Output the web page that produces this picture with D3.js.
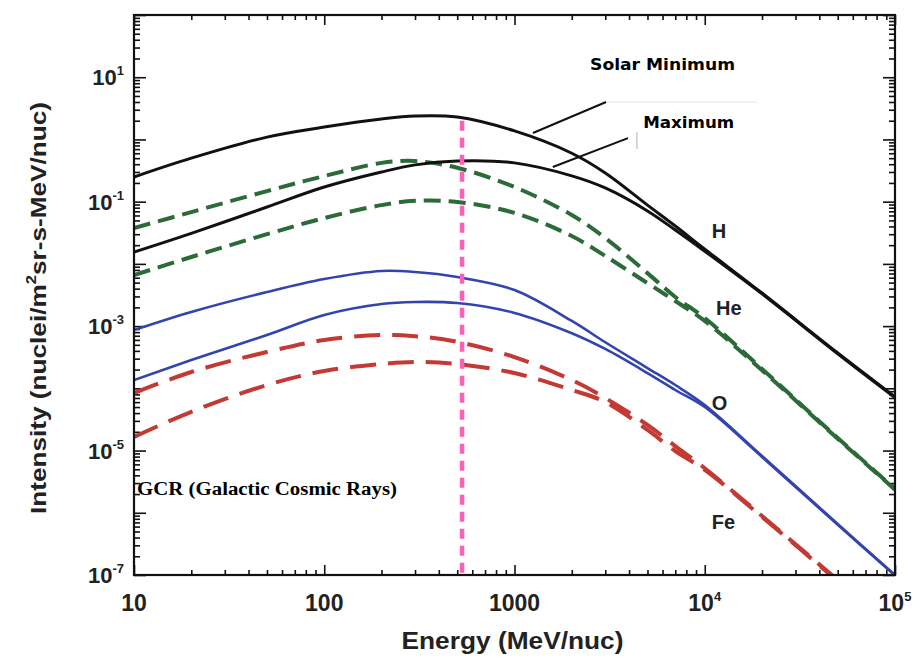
<!DOCTYPE html>
<html>
<head>
<meta charset="utf-8">
<script src="https://cdn.jsdelivr.net/npm/d3@7"></script>
<style>
  body { margin: 0; background: #fff; }
  text { font-family: "Liberation Sans", Arial, sans-serif; }
</style>
</head>
<body>
<div id="chart"></div>
<script>
const energy = [10, 20, 50, 100, 200, 300, 500, 1000, 2000, 3000, 5000, 7000, 1e4, 2e4, 5e4, 1e5];

// intensiteit per element, zonneminimum en -maximum
const hMin  = [0.249, 0.50, 1.09, 1.58, 2.13, 2.38, 2.29, 1.37, 0.60, 0.289, 0.088, 0.0406, 0.0173, 0.0034, 3.7e-4, 7.3e-5];
const hMax  = [0.0155, 0.031, 0.082, 0.172, 0.30, 0.39, 0.45, 0.42, 0.26, 0.166, 0.071, 0.035, 0.0160, 0.0033, 3.6e-4, 7.1e-5];
const heMin = [0.0377, 0.068, 0.148, 0.258, 0.42, 0.45, 0.35, 0.172, 0.061, 0.026, 0.0071, 2.94e-3, 0.00135, 2.05e-4, 1.59e-5, 2.41e-6];
const heMax = [0.0066, 0.0129, 0.030, 0.0546, 0.088, 0.103, 0.099, 0.066, 0.028, 0.0134, 0.0049, 2.53e-3, 0.00121, 1.95e-4, 1.55e-5, 2.35e-6];
const oMin  = [8.65e-4, 1.69e-3, 3.53e-3, 5.71e-3, 7.69e-3, 7.4e-3, 6.15e-3, 3.8e-3, 1.21e-3, 5.5e-4, 2.12e-4, 1.13e-4, 5.4e-5, 8.2e-6, 6.6e-7, 1.0e-7];
const oMax  = [1.36e-4, 2.85e-4, 7.2e-4, 1.51e-3, 2.26e-3, 2.44e-3, 2.35e-3, 1.63e-3, 7.7e-4, 4.3e-4, 1.76e-4, 9.4e-5, 5.0e-5, 7.9e-6, 6.4e-7, 9.8e-8];
const feMin = [8.4e-5, 1.83e-4, 3.84e-4, 5.98e-4, 7.2e-4, 6.9e-4, 5.6e-4, 3.18e-4, 1.36e-4, 7.0e-5, 2.58e-5, 1.18e-5, 5.2e-6, 8.9e-7, 8.3e-8, 1.4e-8];
const feMax = [1.65e-5, 4.2e-5, 1.13e-4, 1.9e-4, 2.46e-4, 2.65e-4, 2.46e-4, 1.76e-4, 9.4e-5, 6.0e-5, 2.14e-5, 9.8e-6, 4.9e-6, 8.6e-7, 8.0e-8, 1.35e-8];

// tick labels
const xTickValues = [10, 100, 1000, 1e4, 1e5];
const xTickLabels = [["10", ""], ["100", ""], ["1000", ""], ["10", "4"], ["10", "5"]];
const yTickValues = [1e1, 1e-1, 1e-3, 1e-5, 1e-7];
const yTickLabels = [["10", "1"], ["10", "-1"], ["10", "-3"], ["10", "-5"], ["10", "-7"]];

// element labels [tekst, energie, intensiteit]
const elementLabels = [["H", 10900, 0.026], ["He", 11460, 1.5e-3], ["O", 10900, 4.5e-5], ["Fe", 10900, 5.5e-7]];

// verticale lijn (roze) op deze energie
const markerEnergy = 530;

const width = 916, height = 658;
const margin = {top: 15, right: 21, bottom: 83, left: 134};
const w = width - margin.left - margin.right;
const h = height - margin.top - margin.bottom;

const x = d3.scaleLog().domain([10, 1e5]).range([0, w]);
const y = d3.scaleLog().domain([1e-7, 1e2]).range([h, 0]);

const svg = d3.select("#chart").append("svg")
    .attr("width", width)
    .attr("height", height);

const g = svg.append("g")
    .attr("transform", "translate(" + margin.left + "," + margin.top + ")");

g.append("clipPath").attr("id", "clip")
  .append("rect").attr("width", w).attr("height", h);

// minor ticks: 2..9 per decade
function minorTicks(lo, hi) {
  const out = [];
  for (let p = lo; p < hi; p++) {
    for (let k = 2; k <= 9; k++) out.push(k * Math.pow(10, p));
  }
  return out;
}
const xMajor = d3.range(1, 6).map(p => Math.pow(10, p));
const yMajor = d3.range(-7, 3).map(p => Math.pow(10, p));

function tickAxis(axisFn, scale, values, size, transform) {
  g.append("g")
    .attr("class", "ticks")
    .attr("transform", transform || null)
    .call(axisFn(scale).tickValues(values).tickSize(-size).tickFormat(""))
    .call(s => s.select(".domain").remove())
    .call(s => s.selectAll("line").attr("stroke", "#111").attr("stroke-width", 1.6));
}
tickAxis(d3.axisBottom, x, minorTicks(1, 5), 5, "translate(0," + h + ")");
tickAxis(d3.axisBottom, x, xMajor, 10, "translate(0," + h + ")");
tickAxis(d3.axisTop, x, minorTicks(1, 5), 5);
tickAxis(d3.axisTop, x, xMajor, 10);
tickAxis(d3.axisLeft, y, minorTicks(-7, 2), 6);
tickAxis(d3.axisLeft, y, yMajor, 12);
tickAxis(d3.axisRight, y, minorTicks(-7, 2), 6, "translate(" + w + ",0)");
tickAxis(d3.axisRight, y, yMajor, 12, "translate(" + w + ",0)");

// tick labels met superscript
const xl = g.append("g").selectAll("text")
    .data(xTickValues)
    .enter().append("text")
    .attr("x", d => x(d))
    .attr("y", h + 36)
    .attr("text-anchor", "middle")
    .style("font-size", "23px")
    .style("font-weight", "bold")
    .style("fill", "#222");
xl.append("tspan").text((d, i) => xTickLabels[i][0]);
xl.append("tspan").attr("dy", -10).style("font-size", "13px").text((d, i) => xTickLabels[i][1]);

const yl = g.append("g").selectAll("text")
    .data(yTickValues)
    .enter().append("text")
    .attr("x", -10)
    .attr("y", d => y(d) + 8)
    .attr("text-anchor", "end")
    .style("font-size", "22px")
    .style("font-weight", "bold")
    .style("fill", "#222");
yl.append("tspan").text((d, i) => yTickLabels[i][0]);
yl.append("tspan").attr("dy", -10).style("font-size", "13px").text((d, i) => yTickLabels[i][1]);

// curves
const line = d3.line()
    .x((d, i) => x(energy[i]))
    .y(d => y(d))
    .curve(d3.curveCatmullRom.alpha(0.5));

const series = [
  {v: feMin, c: "#c33a34", wd: 4, dash: "26,12"},
  {v: feMax, c: "#c33a34", wd: 4, dash: "26,12"},
  {v: oMin, c: "#3345ad", wd: 2.6, dash: null},
  {v: oMax, c: "#3345ad", wd: 2.6, dash: null},
  {v: heMin, c: "#2c6a38", wd: 4, dash: "17,8"},
  {v: heMax, c: "#2c6a38", wd: 4, dash: "17,8"},
  {v: hMin, c: "#111", wd: 3, dash: null},
  {v: hMax, c: "#111", wd: 3, dash: null}
];

g.append("g").attr("clip-path", "url(#clip)")
  .selectAll("path")
  .data(series)
  .enter().append("path")
    .attr("d", d => line(d.v))
    .attr("fill", "none")
    .attr("stroke", d => d.c)
    .attr("stroke-width", d => d.wd)
    .attr("stroke-dasharray", d => d.dash);

// roze verticale lijn
g.append("line")
    .attr("x1", x(markerEnergy)).attr("x2", x(markerEnergy))
    .attr("y1", y(2)).attr("y2", h)
    .attr("stroke", "#ff5fb4")
    .attr("stroke-width", 4.5)
    .attr("stroke-dasharray", "10,7");

// frame
g.append("rect")
    .attr("width", w).attr("height", h)
    .attr("fill", "none")
    .attr("stroke", "#111")
    .attr("stroke-width", 2.2);

// leader lines voor Solar Minimum / Maximum
const lead = g.append("g").attr("stroke", "#111").attr("stroke-width", 2);
lead.append("line")
    .attr("x1", x(1250)).attr("y1", y(1.27))
    .attr("x2", x(3030)).attr("y2", y(4.0));
lead.append("line")
    .attr("x1", x(1590)).attr("y1", y(0.36))
    .attr("x2", x(3950)).attr("y2", y(1.05));
g.append("line")
    .attr("x1", x(3030)).attr("y1", y(4.0))
    .attr("x2", x(18800)).attr("y2", y(4.0))
    .attr("stroke", "#e4e4e4").attr("stroke-width", 1.2);
g.append("line")
    .attr("x1", x(4400)).attr("y1", y(1.3))
    .attr("x2", x(4400)).attr("y2", y(0.7))
    .attr("stroke", "#bbb").attr("stroke-width", 1.2);

g.append("text")
    .attr("x", x(2495)).attr("y", y(13))
    .attr("textLength", 145).attr("lengthAdjust", "spacingAndGlyphs")
    .style("font-family", "'DejaVu Sans', Verdana, sans-serif")
    .style("font-size", "15px").style("font-weight", "bold")
    .text("Solar Minimum");
g.append("text")
    .attr("x", x(4750)).attr("y", y(1.53))
    .attr("textLength", 91).attr("lengthAdjust", "spacingAndGlyphs")
    .style("font-family", "'DejaVu Sans', Verdana, sans-serif")
    .style("font-size", "15px").style("font-weight", "bold")
    .text("Maximum");

// element labels
g.append("g").selectAll("text")
    .data(elementLabels)
    .enter().append("text")
    .attr("x", d => x(d[1]))
    .attr("y", d => y(d[2]))
    .style("font-size", "20px")
    .style("font-weight", "bold")
    .style("fill", "#222")
    .text(d => d[0]);

g.append("text")
    .attr("x", 3).attr("y", y(1.9e-6))
    .attr("textLength", 260).attr("lengthAdjust", "spacingAndGlyphs")
    .style("font-family", "'Liberation Serif', 'Times New Roman', serif")
    .style("font-size", "18px").style("font-weight", "bold")
    .text("GCR (Galactic Cosmic Rays)");

// as-titels
svg.append("text")
    .attr("x", margin.left + w / 2 - 2)
    .attr("y", 649)
    .attr("text-anchor", "middle")
    .attr("textLength", 222).attr("lengthAdjust", "spacingAndGlyphs")
    .style("font-size", "24px").style("font-weight", "bold")
    .style("fill", "#222")
    .text("Energy (MeV/nuc)");

const yt = svg.append("text")
    .attr("transform", "translate(46,308) rotate(-90)")
    .attr("text-anchor", "middle")
    .attr("textLength", 412).attr("lengthAdjust", "spacingAndGlyphs")
    .style("font-size", "22px").style("font-weight", "bold")
    .style("fill", "#222");
yt.append("tspan").text("Intensity (nuclei/m");
yt.append("tspan").attr("dy", -10).style("font-size", "14px").text("2");
yt.append("tspan").attr("dy", 10).text("sr-s-MeV/nuc)");
</script>
</body>
</html>
